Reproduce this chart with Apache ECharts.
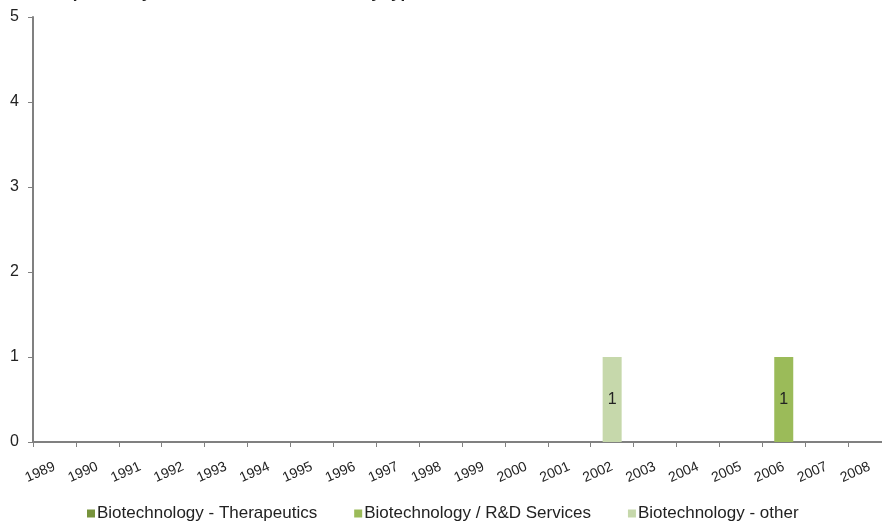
<!DOCTYPE html>
<html>
<head>
<meta charset="utf-8">
<script src="https://cdn.jsdelivr.net/npm/echarts@6/dist/echarts.min.js"></script>
<style>
  html, body { margin: 0; padding: 0; background: #fff; overflow: hidden; }
  #chart { width: 882px; height: 523px; }
</style>
</head>
<body>
<div id="chart"></div>
<script>
// Years on the category axis
const years = ['1989','1990','1991','1992','1993','1994','1995','1996','1997','1998',
               '1999','2000','2001','2002','2003','2004','2005','2006','2007','2008'];

// Number of companies per year, by type
const therapeutics = [0,0,0,0,0,0,0,0,0,0,0,0,0,0,0,0,0,0,0,0];
const rdServices   = [0,0,0,0,0,0,0,0,0,0,0,0,0,0,0,0,0,1,0,0];
const other        = [0,0,0,0,0,0,0,0,0,0,0,0,0,1,0,0,0,0,0,0];

const seriesNames = ['Biotechnology - Therapeutics', 'Biotechnology / R&D Services', 'Biotechnology - other'];
const seriesColors = ['#77933C', '#9BBB59', '#C6D8AB'];
const seriesData = [therapeutics, rdServices, other];

const FONT = 'Liberation Sans, Arial, sans-serif';
const chart = echarts.init(document.getElementById('chart'));

const labelStyle = {
  show: true,
  position: 'inside',
  color: '#222',
  fontSize: 16,
  fontFamily: FONT,
  formatter: p => (p.value ? String(p.value) : '')
};

chart.setOption({
  animation: false,
  backgroundColor: '#fff',
  title: {
    text: 'Companies by formation date and industry type',
    left: 30,
    top: -20,
    textStyle: { fontSize: 17, fontWeight: 'bold', color: '#222', fontFamily: FONT }
  },
  // the plot runs a little past the right edge of the canvas
  grid: { left: 33, width: 858, top: 17, bottom: 81, containLabel: false, outerBoundsMode: 'none' },
  legend: {
    bottom: -4,
    left: 82,
    itemWidth: 8,
    itemHeight: 8,
    itemGap: 37,
    icon: 'rect',
    textStyle: { fontSize: 17, color: '#222', fontFamily: FONT, padding: [0, 0, 0, -3] },
    data: seriesNames
  },
  xAxis: {
    type: 'category',
    data: years,
    boundaryGap: true,
    axisLine: { lineStyle: { color: '#808080', width: 2 } },
    axisTick: { show: true, length: 5, lineStyle: { color: '#808080' } },
    axisLabel: {
      rotate: 24,
      interval: 0,
      color: '#222',
      fontSize: 14,
      margin: 24,
      fontFamily: FONT
    }
  },
  yAxis: {
    type: 'value',
    min: 0,
    max: 5,
    interval: 1,
    splitLine: { show: false },
    axisLine: { show: true, lineStyle: { color: '#808080', width: 2 } },
    axisTick: { show: true, length: 5, lineStyle: { color: '#808080' } },
    axisLabel: { color: '#222', fontSize: 16, margin: 14, fontFamily: FONT }
  },
  series: seriesData.map((d, i) => ({
    name: seriesNames[i],
    type: 'bar',
    stack: 'total',
    data: d,
    barWidth: 19,
    itemStyle: { color: seriesColors[i] },
    label: labelStyle
  }))
});
</script>
</body>
</html>
